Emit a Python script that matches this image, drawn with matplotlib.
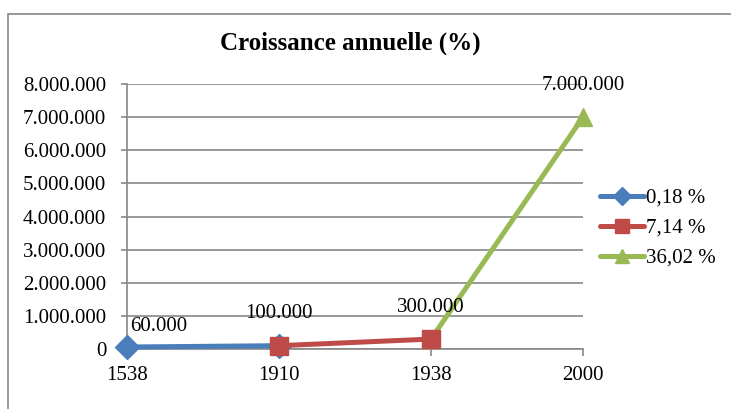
import matplotlib
matplotlib.use("Agg")
import matplotlib.pyplot as plt
from matplotlib.lines import Line2D
from matplotlib.patches import Rectangle

# Data
years = ["1538", "1910", "1938", "2000"]
population = [60000, 100000, 300000, 7000000]
series_names = ["0,18 %", "7,14 %", "36,02 %"]
# each growth series spans two consecutive years
series_idx = [(0, 1), (1, 2), (2, 3)]
data_labels = ["60.000", "100.000", "300.000", "7.000.000"]
yticks = [0, 1000000, 2000000, 3000000, 4000000, 5000000, 6000000, 7000000, 8000000]
ytick_labels = ["0", "1.000.000", "2.000.000", "3.000.000", "4.000.000",
                "5.000.000", "6.000.000", "7.000.000", "8.000.000"]

colors = ["#4A7EBB", "#BE4B48", "#98B954"]
markers = ["D", "s", "^"]
msizes = [12, 13, 13]
zorders = [3, 4, 3]

plt.rcParams["font.family"] = ["Liberation Serif", "DejaVu Serif"]

W, H = 731, 409
fig = plt.figure(figsize=(W / 100, H / 100), dpi=100)

# outer chart frame
fig.patches.append(Rectangle((8 / W, -0.1), 1.2, (H - 14) / H + 0.1,
                             transform=fig.transFigure, fill=False,
                             edgecolor="#878787", linewidth=1.2))

left, right, bottom, top = 127 / W, 583 / W, 1 - 349 / H, 1 - 84 / H
ax = fig.add_axes([left, bottom, right - left, top - bottom])

xs = list(range(len(years)))
for name, (a, b), c, m, ms, z in zip(series_names, series_idx, colors, markers, msizes, zorders):
    ax.plot([xs[a], xs[b]], [population[a], population[b]], color=c, linewidth=3.6,
            marker=m, markersize=ms, markeredgecolor=c, label=name, zorder=z,
            clip_on=False, solid_capstyle="round")

# value labels above each point
offsets = [(23, 15), (0, 23), (0, 23), (0, 23)]
for x, v, lab, off in zip(xs, population, data_labels, offsets):
    ax.annotate(lab, (x, v), xytext=off, textcoords="offset points",
                ha="center", va="center", fontsize=15, color="#000000", zorder=6)

ax.set_xlim(0, 3)
ax.set_ylim(0, 8000000)
ax.set_xticks(xs)
ax.set_xticklabels(years, fontsize=15)
ax.set_yticks(yticks)
ax.set_yticklabels(ytick_labels, fontsize=15)
ax.tick_params(axis="x", direction="out", length=5, width=1.2, color="#878787", pad=7)
ax.tick_params(axis="y", direction="out", length=4, width=1.2, color="#878787", pad=11)
ax.grid(axis="y", color="#878787", linewidth=1.2)
ax.set_axisbelow(True)
for s in ["top", "right"]:
    ax.spines[s].set_visible(False)
for s in ["left", "bottom"]:
    ax.spines[s].set_color("#878787")
    ax.spines[s].set_linewidth(1.2)

fig.text(350 / W, 1 - 43 / H, "Croissance annuelle (%)", ha="center", va="center",
         fontsize=18, fontweight="bold")

handles = [Line2D([0], [0], color=c, linewidth=3.6, marker=m, markersize=ms * 0.75,
                  markeredgecolor=c, solid_capstyle="round")
           for c, m, ms in zip(colors, markers, msizes)]
fig.legend(handles, series_names, loc="center left", bbox_to_anchor=(592 / W, 1 - 228 / H),
           frameon=False, fontsize=15, handlelength=2.1, handletextpad=0.1,
           labelspacing=0.5, borderaxespad=0)

fig.savefig("out.png", dpi=100)
